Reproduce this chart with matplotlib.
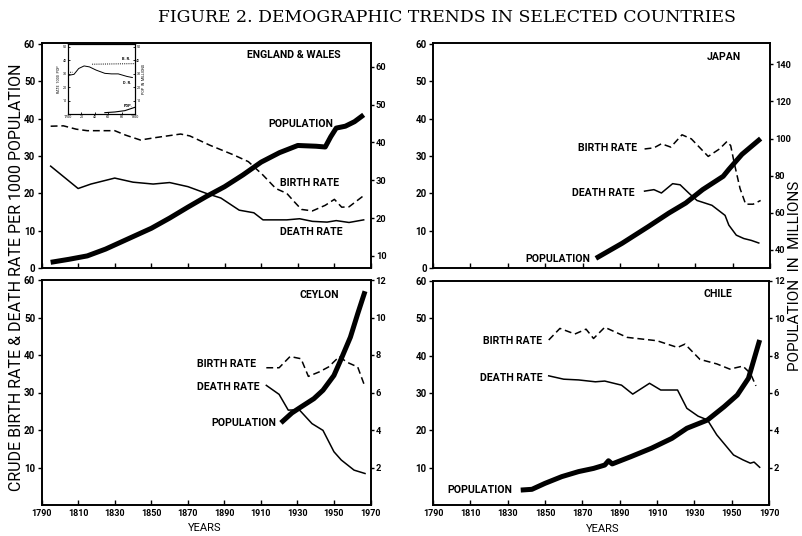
import matplotlib
matplotlib.use('Agg')
import matplotlib.pyplot as plt
import numpy as np

plt.rcParams['font.family'] = ['Roboto', 'DejaVu Sans']

# ---------------- data ----------------
x_ticks = [1790, 1810, 1830, 1850, 1870, 1890, 1910, 1930, 1950, 1970]
x_ticklabels = ['1790', '1810', '1830', '1850', '1870', '1890', '1910', '1930', '1950', '1970']

# England & Wales
eng_br_years = [1795, 1802, 1809, 1815, 1830, 1836, 1844, 1853, 1866, 1871, 1882, 1895, 1903,
                1911, 1918, 1924, 1928, 1932, 1938, 1945, 1950, 1954, 1958, 1966]
eng_br = [38.0, 38.1, 37.2, 36.8, 36.8, 35.6, 34.3, 35.0, 35.9, 35.4, 32.9, 30.3, 28.5,
          24.9, 21.3, 20.0, 17.8, 15.7, 15.3, 16.8, 18.4, 16.3, 16.4, 19.4]
eng_dr_years = [1795, 1810, 1817, 1830, 1840, 1851, 1860, 1870, 1880, 1888, 1898, 1906, 1911,
                1924, 1931, 1938, 1946, 1951, 1958, 1966]
eng_dr = [27.3, 21.3, 22.5, 24.1, 23.0, 22.5, 22.9, 21.8, 20.0, 18.75, 15.5, 14.8, 12.9,
          12.9, 13.2, 12.5, 12.3, 12.7, 12.2, 12.9]
eng_pop_years = [1795, 1805, 1815, 1825, 1830, 1840, 1850, 1860, 1870, 1880, 1890, 1900, 1910,
                 1920, 1930, 1940, 1945, 1948, 1951, 1956, 1961, 1966]
eng_pop = [8.3, 9.1, 10.0, 11.8, 12.9, 15.1, 17.3, 20.0, 22.9, 25.7, 28.3, 31.4, 34.8,
           37.3, 39.2, 39.0, 38.8, 41.5, 43.8, 44.3, 45.5, 47.3]

# England inset (18th century)
ins_dr_years = [1700, 1709, 1716, 1724, 1732, 1742, 1755, 1765, 1775, 1788, 1796]
ins_dr = [28.6, 29.5, 33.8, 35.7, 35.0, 32.6, 30.2, 29.8, 29.8, 27.9, 27.1]
ins_br_years = [1700, 1707, np.nan, 1736, 1800]
ins_br = [31.0, 31.0, np.nan, 37.0, 37.4]
ins_pop_years = [1755, 1770, 1785, 1800]
ins_pop = [1.0, 1.5, 2.5, 5.0]

# Japan
jp_br_years = [1903, 1908, 1912, 1917, 1923, 1928, 1937, 1943, 1947, 1949, 1951, 1954, 1957, 1961, 1965]
jp_br = [31.9, 32.2, 33.3, 32.4, 35.7, 34.6, 29.9, 31.9, 33.9, 32.8, 27.9, 21.3, 17.1, 17.1, 18.1]
jp_dr_years = [1903, 1908, 1912, 1918, 1922, 1927, 1931, 1939, 1946, 1948, 1952, 1956, 1960, 1964]
jp_dr = [20.6, 21.0, 20.1, 22.6, 22.3, 19.9, 18.1, 16.8, 14.1, 11.5, 8.8, 7.9, 7.4, 6.7]
jp_pop_years = [1877, 1891, 1905, 1916, 1925, 1934, 1945, 1948, 1955, 1965]
jp_pop = [35.5, 43.6, 52.6, 59.9, 65.3, 72.5, 79.7, 83.4, 91.5, 100.0]

# Ceylon
cy_br_years = [1913, 1920, 1926, 1932, 1936, 1942, 1947, 1953, 1957, 1963, 1967]
cy_br = [36.6, 36.6, 39.6, 39.0, 34.3, 35.5, 36.8, 39.6, 38.1, 36.8, 31.5]
cy_dr_years = [1913, 1920, 1925, 1931, 1938, 1944, 1950, 1954, 1961, 1967]
cy_dr = [31.9, 29.5, 25.3, 25.4, 21.7, 19.9, 14.2, 12.0, 9.3, 8.4]
cy_pop_years = [1921, 1927, 1932, 1939, 1944, 1950, 1954, 1959, 1963, 1967]
cy_pop = [4.38, 4.91, 5.23, 5.67, 6.12, 6.91, 7.80, 8.95, 10.2, 11.4]

# Chile
ch_br_years = [1852, 1858, 1866, 1872, 1876, 1882, 1894, 1910, 1921, 1925, 1933, 1942, 1949, 1956, 1960, 1963]
ch_br = [44.2, 47.3, 45.8, 47.1, 44.6, 47.6, 44.9, 44.0, 42.2, 43.1, 39.0, 37.8, 36.4, 37.2, 35.3, 31.9]
ch_dr_years = [1852, 1860, 1868, 1877, 1882, 1891, 1897, 1906, 1912, 1921, 1926, 1932, 1937, 1942,
               1951, 1956, 1960, 1962, 1965]
ch_dr = [34.6, 33.7, 33.5, 33.0, 33.2, 32.1, 29.7, 32.6, 30.8, 30.8, 25.9, 23.8, 22.8, 18.8,
         13.4, 12.1, 11.2, 11.5, 10.1]
ch_pop_years = [1837, 1843, 1850, 1859, 1868, 1876, 1882, 1884, 1886, 1896, 1907, 1918, 1926,
                1937, 1946, 1953, 1959, 1965]
ch_pop = [0.80, 0.84, 1.16, 1.52, 1.79, 1.96, 2.14, 2.37, 2.20, 2.59, 3.04, 3.57, 4.11,
          4.55, 5.27, 5.89, 6.79, 8.84]

# ---------------- layout ----------------
W, H = 802, 536
fig = plt.figure(figsize=(W / 100, H / 100), dpi=100)
fig.patch.set_facecolor('white')


def rect(l, t, r, b):
    return [l / W, 1 - b / H, (r - l) / W, (b - t) / H]


def fx(x):
    return x / W


def fy(y):
    return 1 - y / H


SP_LW = 1.2
THIN = 1.1
POP_LW = 3.6
TICKFS = 7
LABFS = 7.6


def make_panel(r, left_lim, left_ticks, left_labels, right_lim, right_ticks, xlabels):
    ax = fig.add_axes(rect(*r))
    ax.set_xlim(1790, 1970)
    ax.set_ylim(*left_lim)
    ax.set_xticks(x_ticks)
    if xlabels:
        ax.set_xticklabels(x_ticklabels)
    else:
        ax.set_xticklabels([])
    ax.set_yticks(left_ticks)
    ax.set_yticklabels(left_labels)
    ax.tick_params(axis='y', direction='out', length=3, width=1, pad=1.5,
                   labelsize=TICKFS)
    ax.tick_params(axis='x', direction='in', length=3.5, width=1, pad=3,
                   labelsize=TICKFS - 0.5)
    for lab in ax.get_xticklabels() + ax.get_yticklabels():
        lab.set_fontweight('bold')
    for s in ax.spines.values():
        s.set_linewidth(SP_LW)
    ax2 = ax.twinx()
    ax2.set_ylim(*right_lim)
    ax2.set_yticks(right_ticks)
    ax2.set_yticklabels([str(t) for t in right_ticks])
    ax2.tick_params(axis='y', direction='out', length=2.5, width=1, pad=1,
                    labelsize=TICKFS - 0.3)
    for lab in ax2.get_yticklabels():
        lab.set_fontweight('bold')
    for s in ax2.spines.values():
        s.set_linewidth(SP_LW)
    return ax, ax2


def draw(ax, ax2, by, bv, dy, dv, py, pv):
    ax.plot(by, bv, color='black', lw=THIN, dashes=(4.5, 2.5))
    ax.plot(dy, dv, color='black', lw=THIN)
    ax2.plot(py, pv, color='black', lw=POP_LW, solid_capstyle='butt')


def lab(x, y, s, ha='left', fs=LABFS):
    fig.text(fx(x), fy(y), s, ha=ha, va='center', fontsize=fs, fontweight='bold')


top_lt = [0, 10, 20, 30, 40, 50, 60]
bot_lt = [10, 20, 30, 40, 50, 60]

# England & Wales
ax, ax2 = make_panel((41.5, 43, 371, 268), (0, 60.3), top_lt, [str(t) for t in top_lt],
                     (6.8, 66.3), [10, 20, 30, 40, 50, 60], False)
draw(ax, ax2, eng_br_years, eng_br, eng_dr_years, eng_dr, eng_pop_years, eng_pop)
lab(247, 55, 'ENGLAND & WALES')
lab(268, 124, 'POPULATION')
lab(280, 183, 'BIRTH RATE')
lab(280, 232, 'DEATH RATE')

# inset
ai = fig.add_axes(rect(68, 44, 135, 114))
ai.set_xlim(1700, 1800)
ai.set_ylim(0, 52)
ai.plot(ins_dr_years, ins_dr, color='black', lw=0.7)
ai.plot(ins_br_years, ins_br, color='black', lw=0.7, dashes=(1, 1.2))
ai.set_xticks([1700, 1720, 1740, 1760, 1780, 1800])
ai.set_xticklabels(['1700', '20', '40', '60', '80', '1800'])
ai.set_yticks([10, 20, 30, 40, 50])
ai.set_yticklabels(['10', '20', '30', '40', '50'])
ai.tick_params(direction='in', length=1.5, width=0.6, labelsize=2.6, pad=1)
for s in ai.spines.values():
    s.set_linewidth(0.8)
ai.set_ylabel('RATE  1000  POP', fontsize=2.6, labelpad=1)
ai2 = ai.twinx()
ai2.set_ylim(0, 52)
ai2.plot(ins_pop_years, ins_pop, color='black', lw=0.8)
ai2.set_yticks([10, 20, 30, 40, 50])
ai2.set_yticklabels(['10', '20', '30', '40', '50'])
ai2.tick_params(direction='in', length=1.5, width=0.6, labelsize=2.6, pad=1)
ai2.set_ylabel('POP  IN  MILLIONS', fontsize=2.6, labelpad=1, rotation=90)
ai.text(1780, 40, 'B. R.', fontsize=2.8, fontweight='bold')
ai.text(1782, 22, 'D. R.', fontsize=2.8, fontweight='bold')
ai.text(1783, 5, 'POP.', fontsize=2.8, fontweight='bold')

# Japan
ax, ax2 = make_panel((433, 43, 770, 268), (0, 60.3), top_lt, [str(t) for t in top_lt],
                     (30.3, 151.5), [40, 60, 80, 100, 120, 140], False)
draw(ax, ax2, jp_br_years, jp_br, jp_dr_years, jp_dr, jp_pop_years, jp_pop)
lab(707, 57, 'JAPAN')
lab(637, 148, 'BIRTH RATE', ha='right')
lab(635, 193, 'DEATH RATE', ha='right')
lab(590, 259, 'POPULATION', ha='right')

# Ceylon
ax, ax2 = make_panel((41.5, 280, 370.5, 505), (0, 60), bot_lt, [str(t) for t in bot_lt],
                     (0, 12), [2, 4, 6, 8, 10, 12], True)
draw(ax, ax2, cy_br_years, cy_br, cy_dr_years, cy_dr, cy_pop_years, cy_pop)
lab(300, 295, 'CEYLON')
lab(197, 364, 'BIRTH RATE')
lab(197, 387, 'DEATH RATE')
lab(211, 423, 'POPULATION')

# Chile
ax, ax2 = make_panel((433, 281, 769, 505), (0, 60), bot_lt, [str(t) for t in bot_lt],
                     (0, 12), [2, 4, 6, 8, 10, 12], True)
draw(ax, ax2, ch_br_years, ch_br, ch_dr_years, ch_dr, ch_pop_years, ch_pop)
lab(703, 294, 'CHILE')
lab(542, 341, 'BIRTH RATE', ha='right')
lab(542, 378, 'DEATH RATE', ha='right')
lab(512, 490, 'POPULATION', ha='right')

# titles and axis labels
fig.text(fx(447), fy(17), 'FIGURE 2. DEMOGRAPHIC TRENDS IN SELECTED COUNTRIES',
         ha='center', va='center', fontsize=12.4, family='DejaVu Serif')
fig.text(fx(17), fy(277), 'CRUDE BIRTH RATE & DEATH RATE PER 1000 POPULATION',
         rotation=90, ha='center', va='center', fontsize=11.5)
fig.text(fx(795), fy(276), 'POPULATION  IN  MILLIONS',
         rotation=90, ha='center', va='center', fontsize=11)
fig.text(fx(205), fy(528), 'YEARS', ha='center', va='center', fontsize=8)
fig.text(fx(603), fy(529), 'YEARS', ha='center', va='center', fontsize=8)

fig.savefig('out.png', dpi=100, facecolor='white')
